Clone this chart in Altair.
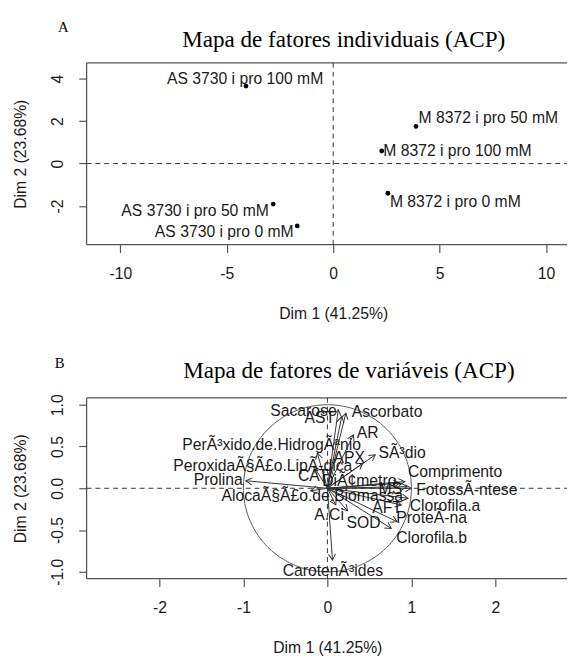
import altair as alt
import numpy as np
import pandas as pd

# ---------------- Panel A: individuals ----------------
ind_names = ["AS 3730 i pro 100 mM", "M 8372 i pro 50 mM", "M 8372 i pro 100 mM",
             "M 8372 i pro 0 mM", "AS 3730 i pro 50 mM", "AS 3730 i pro 0 mM"]
ind_dim1 = [-4.10, 3.89, 2.28, 2.57, -2.82, -1.69]
ind_dim2 = [3.65, 1.75, 0.59, -1.40, -1.91, -2.94]
ind_lab_x = [-4.14, 7.29, 5.84, 5.74, -6.49, -5.12]
ind_lab_y = [4.00, 2.14, 0.59, -1.80, -2.26, -3.25]

# ---------------- Panel B: variables ----------------
var_names = ["Sacarose", "AST", "Ascorbato", "AR", "PerÃ³xido.de.HidrogÃªnio",
             "SÃ³dio", "APX", "PeroxidaÃ§Ã£o.LipÃ-dica", "CAT", "Prolina",
             "DiÃ¢metro", "Comprimento", "MS", "FotossÃ-ntese",
             "AlocaÃ§Ã£o.de.Biomassa", "Clorofila.a", "AFT", "A.Ci", "SOD",
             "ProteÃ-na", "Clorofila.b", "CarotenÃ³ides"]
var_dim1 = [0.13, 0.17, 0.22, 0.31, -0.12, 0.57, 0.42, -0.16, 0.05, -0.97,
            0.86, 0.92, 0.95, 1.00, -0.20, 0.96, 0.88, 0.10, 0.24, 0.83, 0.76, 0.06]
var_dim2 = [0.94, 0.86, 0.90, 0.64, 0.42, 0.40, 0.30, 0.26, 0.22, 0.09,
            0.06, 0.08, 0.02, 0.00, -0.03, -0.12, -0.20, -0.20, -0.27, -0.40, -0.48, -0.86]
var_lab_x = [-0.285, -0.09, 0.71, 0.48, -0.665, 0.89, 0.26, -0.77, -0.17, -1.30,
             0.38, 1.52, 0.75, 1.66, -0.18, 1.40, 0.71, 0.02, 0.43, 1.24, 1.24, 0.065]
var_lab_y = [0.92, 0.84, 0.91, 0.66, 0.52, 0.42, 0.36, 0.27, 0.15, 0.10,
             0.08, 0.19, -0.01, -0.02, -0.09, -0.21, -0.24, -0.32, -0.42, -0.36, -0.60, -0.99]

ticks_A_x = [-10, -5, 0, 5, 10]
ticks_A_y = [-2, 0, 2, 4]
ticks_B_x = [-2, -1, 0, 1, 2]
ticks_B_y = [-1.0, -0.5, 0.0, 0.5, 1.0]

title_A = "Mapa de fatores individuais (ACP)"
title_B = "Mapa de fatores de variáveis (ACP)"
xlab = "Dim 1 (41.25%)"
ylab = "Dim 2 (23.68%)"

W = 489
HA = 185
HB = 184
SANS = "Liberation Sans"
SERIF = "Liberation Serif"
FRAME = "#555555"
TXT = "#1a1a1a"

dfA = pd.DataFrame({"name": ind_names, "d1": ind_dim1, "d2": ind_dim2,
                    "lx": ind_lab_x, "ly": ind_lab_y})
dfB = pd.DataFrame({"name": var_names, "d1": var_dim1, "d2": var_dim2,
                    "lx": var_lab_x, "ly": var_lab_y})
dfB["o"] = 0.0
dfB["ang"] = (np.degrees(np.arctan2(dfB["d1"], dfB["d2"])) + 360.0) % 360.0

theta = np.linspace(0, 2 * np.pi, 241)
circle = pd.DataFrame({"cx": np.cos(theta), "cy": np.sin(theta), "k": np.arange(len(theta))})

one = pd.DataFrame({"z": [0.0]})


def axis_x(values, lab_expr, title_x):
    return alt.Axis(values=values, title=xlab, domain=False, grid=False,
                    tickColor=FRAME, tickWidth=1.2, tickSize=8,
                    labelFont=SANS, labelFontSize=16, labelColor=TXT,
                    labelBaseline="middle", labelPadding=21, labelFlush=False,
                    labelOverlap=False, labelExpr=lab_expr,
                    titleFont=SANS, titleFontSize=16, titleColor=TXT,
                    titleFontWeight="normal", titleX=title_x, titleY=70,
                    titleAlign="center", titleBaseline="middle")


def axis_y(values, lab_expr, h):
    return alt.Axis(values=values, title=ylab, domain=False, grid=False,
                    tickColor=FRAME, tickWidth=1.2, tickSize=8,
                    labelFont=SANS, labelFontSize=16, labelColor=TXT,
                    labelAngle=270, labelAlign="center", labelBaseline="middle",
                    labelPadding=22, labelFlush=False, labelOverlap=False,
                    labelExpr=lab_expr,
                    titleFont=SANS, titleFontSize=16, titleColor=TXT,
                    titleFontWeight="normal", titleX=-67, titleY=h / 2,
                    titleAngle=270, titleAlign="center", titleBaseline="middle")


def frame(h):
    top = alt.Chart(one).mark_rule(color=FRAME, strokeWidth=1.3).encode(
        x=alt.value(0), x2=alt.value(W), y=alt.value(0))
    bot = alt.Chart(one).mark_rule(color=FRAME, strokeWidth=1.3).encode(
        x=alt.value(0), x2=alt.value(W), y=alt.value(h))
    left = alt.Chart(one).mark_rule(color=FRAME, strokeWidth=1.3).encode(
        x=alt.value(0), y=alt.value(0), y2=alt.value(h))
    return [top, bot, left]


def zero_lines(xs, ys, ax, ay, h):
    v = alt.Chart(one).mark_rule(color="#333333", strokeWidth=1, strokeDash=[5, 4]).encode(
        x=alt.X("z:Q", scale=xs, axis=ax), y=alt.value(0), y2=alt.value(h))
    hz = alt.Chart(one).mark_rule(color="#333333", strokeWidth=1, strokeDash=[5, 4]).encode(
        y=alt.Y("z:Q", scale=ys, axis=ay), x=alt.value(0), x2=alt.value(W))
    return [v, hz]


def heading(text, x, y, size, font):
    return alt.Chart(one).mark_text(text=text, font=font, fontSize=size, color="black",
                                    align="center", baseline="middle").encode(
        x=alt.value(x), y=alt.value(y))


int_expr = "datum.value < 0 ? '-' + format(abs(datum.value), 'd') : format(datum.value, 'd')"
dec_expr = "(datum.value < 0 ? '-' : '') + format(abs(datum.value), '.1f')"

# ---------- Panel A ----------
xsA = alt.Scale(domain=[-11.59, 10.99], nice=False, zero=False)
ysA = alt.Scale(domain=[-3.82, 4.745], nice=False, zero=False)
axAx = axis_x(ticks_A_x, int_expr, 251)
axAy = axis_y(ticks_A_y, int_expr, HA)

anchor = alt.Chart(one).mark_rule(opacity=0, strokeWidth=1).encode(
    x=alt.value(-79.5), x2=alt.value(-78), y=alt.value(-49.5))

ptsA = alt.Chart(dfA).mark_circle(size=24, color="black", opacity=1).encode(
    x=alt.X("d1:Q", scale=xsA, axis=axAx),
    y=alt.Y("d2:Q", scale=ysA, axis=axAy))
labA = alt.Chart(dfA).mark_text(font=SANS, fontSize=16, color=TXT,
                                align="center", baseline="middle").encode(
    x=alt.X("lx:Q", scale=xsA, axis=axAx),
    y=alt.Y("ly:Q", scale=ysA, axis=axAy),
    text="name:N")

panelA = alt.layer(
    ptsA, anchor, *frame(HA), *zero_lines(xsA, ysA, axAx, axAy, HA), labA,
    heading(title_A, 261.7, -23, 23.5, SERIF),
    heading("A", -23.6, -36.3, 15, SERIF),
).properties(width=W, height=HA)

# ---------- Panel B ----------
xsB = alt.Scale(domain=[-2.867, 2.853], nice=False, zero=False)
ysB = alt.Scale(domain=[-1.082, 1.082], nice=False, zero=False)
axBx = axis_x(ticks_B_x, int_expr, 245)
axBy = axis_y(ticks_B_y, dec_expr, HB)

circ = alt.Chart(circle).mark_line(color="#555555", strokeWidth=1).encode(
    x=alt.X("cx:Q", scale=xsB, axis=axBx),
    y=alt.Y("cy:Q", scale=ysB, axis=axBy),
    order="k:Q")
arrows = alt.Chart(dfB).mark_rule(color="#333333", strokeWidth=1).encode(
    x=alt.X("o:Q", scale=xsB, axis=axBx),
    y=alt.Y("o:Q", scale=ysB, axis=axBy),
    x2="d1:Q", y2="d2:Q")
heads = alt.Chart(dfB).mark_point(shape="M-0.58,1L0,0L0.58,1", filled=False, size=150,
                                  strokeWidth=1, color="#333333", opacity=1).encode(
    x=alt.X("d1:Q", scale=xsB, axis=axBx),
    y=alt.Y("d2:Q", scale=ysB, axis=axBy),
    angle=alt.Angle("ang:Q", scale=None))
labB = alt.Chart(dfB).mark_text(font=SANS, fontSize=16, color=TXT,
                                align="center", baseline="middle").encode(
    x=alt.X("lx:Q", scale=xsB, axis=axBx),
    y=alt.Y("ly:Q", scale=ysB, axis=axBy),
    text="name:N")

panelB = alt.layer(
    circ, *frame(HB), *zero_lines(xsB, ysB, axBx, axBy, HB), arrows, heads, labB,
    heading(title_B, 267, -27.3, 23.5, SERIF),
    heading("B", -27.3, -35.7, 15, SERIF),
).properties(width=W, height=HB)

chart = alt.vconcat(panelA, panelB, spacing=156, bounds="flush").properties(
    padding=0
).configure_view(stroke="transparent")

chart.save("out.html", embed_options={"renderer": "svg", "actions": False})
